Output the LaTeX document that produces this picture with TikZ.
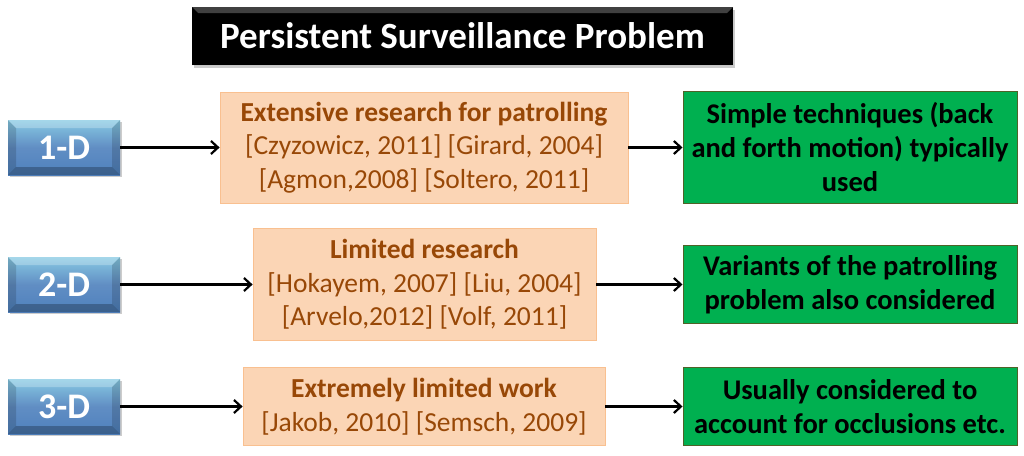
\documentclass[tikz,border=0pt]{standalone}
\usepackage{fontspec}
\setmainfont{Carlito}
\usetikzlibrary{arrows.meta,shadows}

\definecolor{dimblue}{HTML}{4F81BD}
\definecolor{litfill}{HTML}{FBD5B5}
\definecolor{litline}{HTML}{F9C090}
\definecolor{littext}{HTML}{984807}
\definecolor{outgreen}{HTML}{00B050}
\definecolor{outline}{HTML}{4F6228}

\tikzset{
	bevel/.style={path picture={
		\fill[white, opacity=0.25] (path picture bounding box.north west) -- (path picture bounding box.north east)
			-- ([shift={(-#1,-#1)}]path picture bounding box.north east) -- ([shift={(#1,-#1)}]path picture bounding box.north west) -- cycle;
		\fill[black, opacity=0.15] (path picture bounding box.north west) -- ([shift={(#1,-#1)}]path picture bounding box.north west)
			-- ([shift={(#1,#1)}]path picture bounding box.south west) -- (path picture bounding box.south west) -- cycle;
		\fill[black, opacity=0.15] (path picture bounding box.north east) -- ([shift={(-#1,-#1)}]path picture bounding box.north east)
			-- ([shift={(-#1,#1)}]path picture bounding box.south east) -- (path picture bounding box.south east) -- cycle;
		\fill[black, opacity=0.25] (path picture bounding box.south west) -- ([shift={(#1,#1)}]path picture bounding box.south west)
			-- ([shift={(-#1,#1)}]path picture bounding box.south east) -- (path picture bounding box.south east) -- cycle;
	}},
	dimbox/.style={inner sep=0pt, minimum width=112pt, minimum height=55pt,
		top color=dimblue!70!cyan!60!white, bottom color=dimblue, middle color=dimblue!90!white,
		bevel=8pt, drop shadow={shadow xshift=2pt, shadow yshift=-2pt, opacity=0.4},
		text=white, font=\fontsize{36}{40}\selectfont\bfseries},
	litbox/.style={inner sep=0pt, fill=litfill, draw=litline, line width=0.8pt,
		text=littext, align=center, font=\fontsize{27.5}{33.5}\selectfont},
	outbox/.style={inner sep=0pt, fill=outgreen, draw=outline, line width=1pt,
		minimum width=334pt, align=center, font=\fontsize{28.5}{34}\selectfont\bfseries},
	link/.style={line width=2.5pt, -{Straight Barb[length=7pt, width=13pt, line width=2.2pt]}}
}

\begin{document}
\begin{tikzpicture}[x=1pt, y=-1pt]
	\useasboundingbox (0,0) rectangle (1024,455);
	% title
	\node[inner sep=0pt, minimum width=541pt, minimum height=58pt, fill=black, text=white, bevel=6pt,
		drop shadow={shadow xshift=2pt, shadow yshift=-3pt, opacity=0.4},
		font=\fontsize{37}{40}\selectfont\bfseries] (title) at (462.5,36) {Persistent Surveillance Problem};
	% dimensions
	\node[dimbox] (d1) at (64,147.5) {1-D};
	\node[dimbox] (d2) at (64,284.5) {2-D};
	\node[dimbox] (d3) at (64,406.5) {3-D};
	% literature
	\node[litbox, minimum width=408pt, minimum height=111pt] (lit1) at (424,147.5)
		{{\bfseries Extensive research for patrolling}\\ {[}Czyzowicz, 2011] [Girard, 2004]\\ {[}Agmon,2008] [Soltero, 2011]};
	\node[litbox, minimum width=343pt, minimum height=112pt] (lit2) at (424.5,284.5)
		{{\bfseries Limited research}\\ {[}Hokayem, 2007] [Liu, 2004]\\ {[}Arvelo,2012] [Volf, 2011]};
	\node[litbox, minimum width=362pt, minimum height=78pt] (lit3) at (424,406.5)
		{{\bfseries Extremely limited work}\\ {[}Jakob, 2010] [Semsch, 2009]};
	% outcome
	\node[outbox, minimum height=112pt] (out1) at (850,147.5)
		{Simple techniques (back\\ and forth motion) typically\\ used};
	\node[outbox, minimum height=78pt] (out2) at (850,284.5)
		{Variants of the patrolling\\ problem also considered};
	\node[outbox, minimum height=78pt] (out3) at (850,406.5)
		{Usually considered to\\ account for occlusions etc.};
	% connectors
	\foreach \i in {1,2,3} {
		\draw[link] (d\i) -- (lit\i);
		\draw[link] (lit\i) -- (out\i);
	}
\end{tikzpicture}
\end{document}
